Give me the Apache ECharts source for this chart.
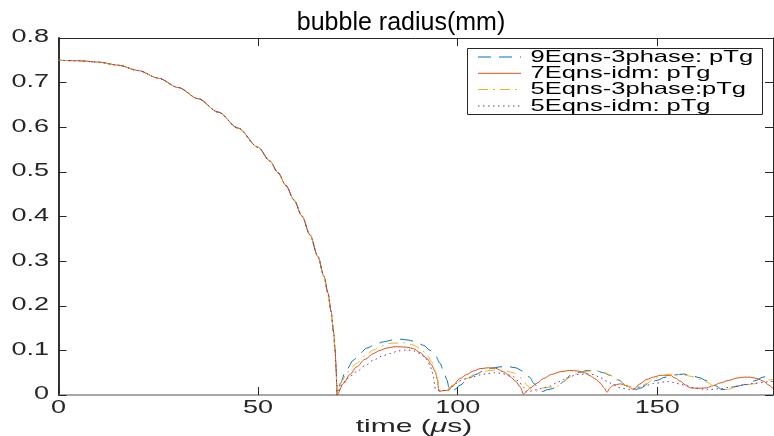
<!DOCTYPE html>
<html><head><meta charset="utf-8">
<script src="https://cdn.jsdelivr.net/npm/echarts@6/dist/echarts.min.js"></script>
<style>html,body{margin:0;padding:0;background:#fff}#c{width:774px;height:436px}</style>
</head><body><div id="c"></div>
<script>
const chartTitle = 'bubble radius(mm)';
const seriesNames = ['9Eqns-3phase: pTg', '7Eqns-idm: pTg', '5Eqns-3phase:pTg', '5Eqns-idm: pTg'];
const xTickValues = [0, 50, 100, 150];
const xTickLabels = ['0', '50', '100', '150'];
const yTickValues = [0, 0.1, 0.2, 0.3, 0.4, 0.5, 0.6, 0.7, 0.8];
const yTickLabels = ['0', '0.1', '0.2', '0.3', '0.4', '0.5', '0.6', '0.7', '0.8'];

// shared collapse phase (time us, radius mm)
const collapse = [[0,0.750],[5,0.749],[10,0.746],[15,0.739],[20,0.727],[25,0.710],[30,0.689],[35,0.664],[40,0.634],[45,0.598],[50,0.555],[53,0.524],[55,0.498],[57,0.469],[59,0.437],[61,0.401],[63,0.359],[65,0.310],[66.5,0.266],[67.5,0.229],[68.3,0.187],[68.9,0.142],[69.3,0.100],[69.55,0.060],[69.7,0.022],[69.75,0.0]];

const rebound9Eqns3phase = [[70.6,0.026],[72,0.055],[73.9,0.078],[75.5,0.093],[77.2,0.105],[79.5,0.114],[81.4,0.119],[83.5,0.123],[85.6,0.125],[87.7,0.123],[89.8,0.118],[91.5,0.111],[93.1,0.100],[94.5,0.087],[95.6,0.071],[96.5,0.053],[97.3,0.034],[97.8,0.018],[98.2,0.007],[99.2,0.012],[100.6,0.022],[102.5,0.035],[104.5,0.046],[106.5,0.054],[108.5,0.060],[110.5,0.063],[112.5,0.064],[114.5,0.061],[116.5,0.053],[118,0.040],[119.2,0.025],[120.5,0.010],[121.3,0.008],[122.5,0.012],[124.9,0.017],[126.5,0.030],[128.3,0.044],[130.5,0.051],[132.5,0.055],[134.5,0.055],[136.5,0.050],[138.5,0.043],[140.2,0.034],[142.4,0.020],[144.5,0.012],[146,0.016],[147.8,0.026],[150,0.033],[152,0.040],[154.5,0.045],[156.6,0.047],[158.5,0.044],[160.5,0.039],[162.4,0.032],[164.5,0.021],[166.3,0.012],[167.5,0.013],[169.5,0.019],[172.5,0.024],[174.5,0.032],[176.5,0.040],[178.3,0.045],[179,0.047]];

const rebound7Eqnsidm = [[71.4,0.026],[73,0.046],[74.7,0.063],[76.8,0.080],[78.9,0.093],[80.5,0.100],[82.2,0.105],[84,0.108],[85.6,0.108],[87.3,0.107],[88.9,0.104],[90.6,0.095],[92.3,0.082],[93.4,0.068],[94.4,0.052],[94.9,0.035],[95.2,0.015],[95.4,0.008],[96.5,0.010],[97.8,0.010],[98.6,0.019],[100.6,0.037],[102.3,0.046],[104,0.054],[105.6,0.059],[107.7,0.061],[109.5,0.060],[111.5,0.052],[113.2,0.041],[114.5,0.031],[115.7,0.018],[116.5,0.002],[117.3,0.009],[118.2,0.016],[120,0.027],[121.5,0.037],[123.5,0.046],[125.7,0.052],[128,0.055],[130,0.054],[131.8,0.050],[133.2,0.043],[134.5,0.036],[135.7,0.027],[136.7,0.016],[137.4,0.006],[138.2,0.016],[139,0.022],[140.7,0.025],[142.4,0.021],[143.3,0.016],[144.1,0.012],[145.5,0.024],[147.4,0.035],[149,0.040],[150.8,0.044],[153.3,0.044],[154.5,0.038],[155.8,0.031],[157,0.023],[158.3,0.016],[160,0.015],[162.4,0.016],[164,0.021],[165.8,0.027],[168,0.033],[170,0.038],[171.7,0.040],[173.3,0.040],[175,0.037],[176.6,0.031],[178,0.022],[179,0.014]];

const rebound5Eqns3phase = [[70.8,0.030],[72.5,0.052],[74.7,0.071],[76.8,0.088],[78.9,0.101],[81,0.110],[83.1,0.116],[86.4,0.117],[88.5,0.113],[90.6,0.105],[92.3,0.090],[93.5,0.074],[94.4,0.056],[95,0.035],[95.2,0.019],[95.6,0.010],[97.5,0.010],[98.6,0.022],[100.5,0.030],[102.3,0.037],[104,0.045],[105.6,0.050],[107.5,0.054],[109.5,0.056],[111.5,0.055],[114,0.050],[115.5,0.041],[116.5,0.031],[117.6,0.020],[118.6,0.012],[119.5,0.008],[120.6,0.015],[122.7,0.017],[124.9,0.020],[126.5,0.030],[128.3,0.041],[130,0.048],[131.5,0.052],[133.3,0.054],[134.9,0.054],[136.5,0.050],[138.2,0.045],[139.9,0.034],[141.2,0.026],[142.4,0.020],[144.9,0.018],[146.2,0.021],[147.4,0.026],[149,0.035],[150.8,0.043],[152.5,0.046],[154.1,0.047],[156.5,0.045],[159.1,0.041],[160.8,0.035],[162.4,0.029],[164,0.021],[165.8,0.014],[167.5,0.012],[169,0.016],[170.8,0.021],[172.5,0.023],[174.1,0.025],[176.2,0.029],[178.3,0.034],[179,0.035]];

const rebound5Eqnsidm = [[70.8,0.022],[72.5,0.038],[74.7,0.052],[76.8,0.066],[78.9,0.078],[81,0.087],[83.1,0.093],[85.2,0.099],[87.3,0.101],[89,0.099],[90.6,0.093],[92,0.082],[93.1,0.067],[93.6,0.052],[93.9,0.041],[94.2,0.025],[94.4,0.013],[95.5,0.010],[97,0.010],[98.6,0.019],[100.6,0.032],[102.3,0.037],[104,0.041],[105.6,0.045],[107.5,0.048],[109.2,0.050],[110.6,0.049],[112.3,0.046],[114,0.041],[115.3,0.030],[116.5,0.018],[117.3,0.006],[118.5,0.009],[119.8,0.012],[121.5,0.016],[123.1,0.020],[124.8,0.027],[126.5,0.035],[128.2,0.041],[129.8,0.046],[132,0.047],[134,0.046],[135.7,0.039],[137.4,0.031],[139,0.023],[140.7,0.016],[143.2,0.012],[145.8,0.018],[147.5,0.022],[149.1,0.026],[152.5,0.030],[154.2,0.028],[155.8,0.024],[157.5,0.020],[159.1,0.016],[162.4,0.012],[165.8,0.014],[168,0.017],[170,0.020],[172,0.023],[174.1,0.026],[176.2,0.028],[178.3,0.030],[179,0.031]];

const rebounds = [rebound9Eqns3phase, rebound7Eqnsidm, rebound5Eqns3phase, rebound5Eqnsidm];
const colors = ['#0072BD', '#D95319', '#EDB120', '#7E2F8E'];
const dashes = [[13, 8], 'solid', [10, 5, 2, 5], [1.5, 3.5]];

const FONT = '"Liberation Sans", Arial, Helvetica, sans-serif';
const TXT = '#262626';
const STRETCH = 1.5;

const chart = echarts.init(document.getElementById('c'), null, {renderer: 'canvas'});

function axisX(pos, lineColor, lineWidth) {
  return {
    type: 'value', position: pos, min: 0, max: 179, interval: 50,
    axisLine: {show: true, onZero: false, lineStyle: {color: lineColor, width: lineWidth}},
    axisTick: {show: true, inside: true, length: 8, lineStyle: {color: TXT}},
    axisLabel: {show: false}, splitLine: {show: false}
  };
}
function axisY(pos, lineColor, lineWidth) {
  return {
    type: 'value', position: pos, min: 0, max: 0.8, interval: 0.1,
    axisLine: {show: true, onZero: false, lineStyle: {color: lineColor, width: lineWidth}},
    axisTick: {show: true, inside: true, length: 8, lineStyle: {color: TXT}},
    axisLabel: {show: false}, splitLine: {show: false}
  };
}

chart.setOption({
  animation: false,
  backgroundColor: '#fff',
  grid: {left: 58.5, top: 38, width: 714.5, height: 357, containLabel: false},
  xAxis: [axisX('bottom', '#8a8a8a', 1.5), axisX('top', TXT, 1)],
  yAxis: [axisY('left', '#333', 2), axisY('right', TXT, 1)],
  series: seriesNames.map((n, i) => ({
    name: n, type: 'line', xAxisIndex: 0, yAxisIndex: 0,
    data: collapse.concat(rebounds[i]),
    showSymbol: false, symbol: 'none', smooth: 0.3, smoothMonotone: 'x',
    lineStyle: {color: colors[i], width: 1, type: dashes[i]},
    z: 2 + i
  }))
});

const px = v => chart.convertToPixel({xAxisIndex: 0}, v);
const py = v => chart.convertToPixel({yAxisIndex: 0}, v);

function txt(text, x, y, size, align, stretch, extra) {
  return {
    type: 'text', x: x, y: y, scaleX: stretch, scaleY: 1, z: 100,
    style: Object.assign({
      text: text, fill: TXT, font: size + 'px ' + FONT,
      align: align, textAlign: align, verticalAlign: 'middle', textVerticalAlign: 'middle'
    }, extra || {})
  };
}

const graphics = [];
// title
graphics.push(txt(chartTitle, 401, 23, 25, 'center', 1, {fill: '#000'}));
// y tick labels
yTickValues.forEach((v, i) => graphics.push(txt(yTickLabels[i], 49, py(v) - 0.5, 18, 'right', STRETCH)));
// x tick labels
xTickValues.forEach((v, i) => graphics.push(txt(xTickLabels[i], px(v), 408.5, 18, 'center', STRETCH)));
// x axis title
graphics.push(txt('time ({i|μ}s)', 414, 427, 19, 'center', 1.58, {rich: {i: {fontStyle: 'italic', font: 'italic 19px ' + FONT, fill: TXT}}}));
// legend box
graphics.push({type: 'rect', z: 99, shape: {x: 467.5, y: 48.5, width: 295, height: 66},
  style: {fill: '#fff', stroke: TXT, lineWidth: 1}});
const rowY = [57, 73.3, 89.5, 106];
seriesNames.forEach((n, i) => {
  graphics.push({type: 'line', z: 100, shape: {x1: 478, y1: rowY[i], x2: 521, y2: rowY[i]},
    style: {stroke: colors[i], lineWidth: 1, lineDash: dashes[i] === 'solid' ? null : dashes[i]}});
  graphics.push(txt(n, 530.5, rowY[i], 17, 'left', STRETCH, {fill: '#000'}));
});

chart.setOption({graphic: graphics});
</script>
</body></html>
